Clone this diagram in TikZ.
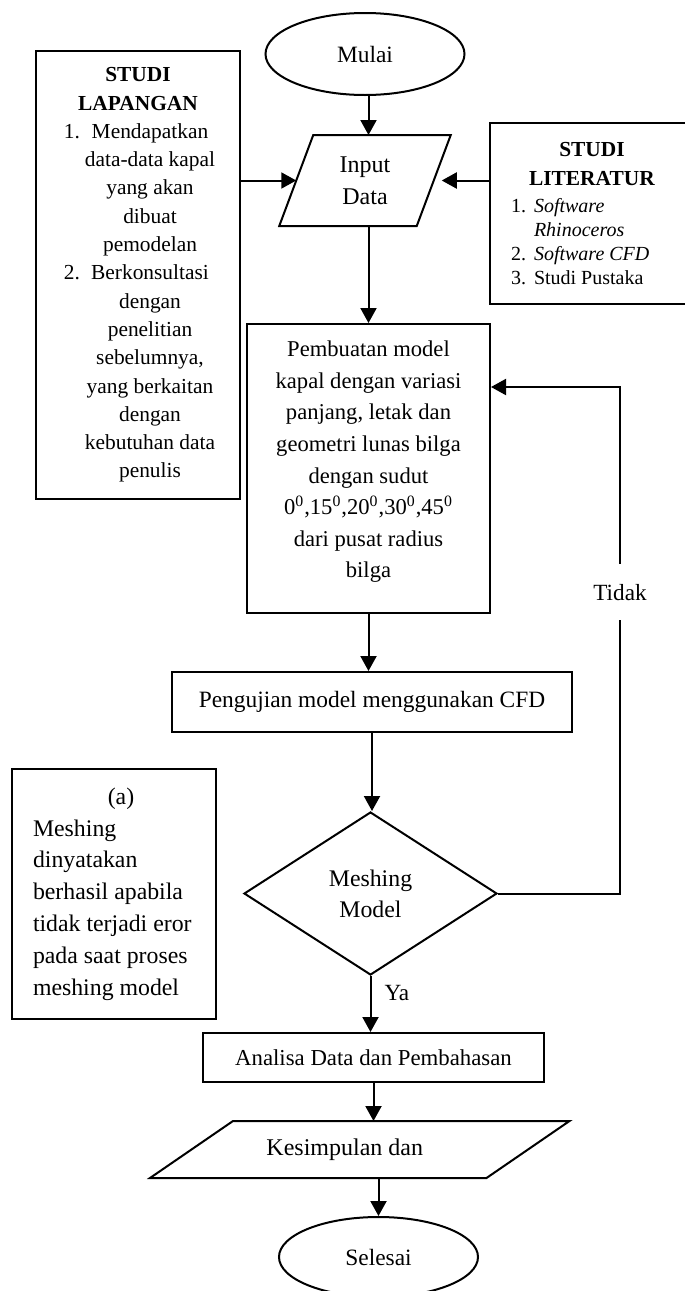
\documentclass[tikz,border=0pt]{standalone}
\usepackage{fontspec}
\setmainfont{Liberation Serif}
\usetikzlibrary{shapes.geometric,arrows.meta}

\tikzset{every picture/.style={line width=1pt}}
\tikzset{kotak/.style={draw, rectangle, inner sep=0pt, align=center, font=\fontsize{11.7}{15.8}\selectfont}}
\tikzset{lonjong/.style={draw, ellipse, inner sep=0pt, font=\fontsize{11.7}{14}\selectfont}}
\tikzset{jajar/.style={rectangle, inner sep=0pt, outer sep=0pt, align=center, font=\fontsize{12}{16}\selectfont}}
\tikzset{panah/.style={-{Triangle[length=7.5pt,width=8pt]}}}
\newcommand{\lapbaris}[2]{\makebox[12pt][r]{#1}\makebox[70pt]{#2}}
\newcommand{\litbaris}[2]{\makebox[81pt][l]{\makebox[11.5pt][l]{#1}#2}}
\newcommand{\catbaris}[1]{\makebox[81pt][l]{#1}}
\newcommand{\sisimiring}[2]{\draw ([xshift=#2]#1.north west) -- ([xshift=#2]#1.north east)
    -- ([xshift=-#2]#1.south east) -- ([xshift=-#2]#1.south west) -- cycle;}

\begin{document}
\begin{tikzpicture}[x=0.5pt,y=-0.5pt]
    \useasboundingbox (0,0) rectangle (685,1291);
    \node[lonjong, minimum width=99.5pt, minimum height=41pt] (mulai) at (365,54) {Mulai};
    \node[jajar, minimum width=68.75pt, minimum height=45.5pt] (input) at (365,180.5) {Input\\Data};
    \sisimiring{input}{8.5pt}
    \node[kotak, minimum width=102pt, minimum height=224pt, font=\fontsize{10.7}{14.15}\selectfont] (lapangan) at (138,275)
        {\textbf{STUDI}\\ \textbf{LAPANGAN}\\
        \lapbaris{1.}{Mendapatkan}\\ \lapbaris{}{data-data kapal}\\ \lapbaris{}{yang akan}\\
        \lapbaris{}{dibuat}\\ \lapbaris{}{pemodelan}\\
        \lapbaris{2.}{Berkonsultasi}\\ \lapbaris{}{dengan}\\ \lapbaris{}{penelitian}\\
        \lapbaris{}{sebelumnya,}\\ \lapbaris{}{yang berkaitan}\\ \lapbaris{}{dengan}\\
        \lapbaris{}{kebutuhan data}\\ \lapbaris{}{penulis}};
    \node[kotak, minimum width=102pt, minimum height=90.5pt, font=\fontsize{10}{12}\selectfont] (literatur) at (592,213.5)
        {{\fontsize{10.7}{12}\selectfont\textbf{STUDI}}\\[2.5pt]
        {\fontsize{10.7}{12}\selectfont\textbf{LITERATUR}}\\[1.5pt]
        \litbaris{1.}{\textit{Software}}\\ \litbaris{}{\textit{Rhinoceros}}\\
        \litbaris{2.}{\textit{Software CFD}}\\ \litbaris{3.}{Studi Pustaka}};
    \node[kotak, minimum width=121.5pt, minimum height=144.5pt, font=\fontsize{11.3}{15.8}\selectfont] (model) at (368.5,468.5)
        {Pembuatan model\\ kapal dengan variasi\\ panjang, letak dan\\ geometri lunas bilga\\ dengan sudut\\
        0\textsuperscript{0},15\textsuperscript{0},20\textsuperscript{0},30\textsuperscript{0},45\textsuperscript{0}\\
        dari pusat radius\\ bilga\rule[-9pt]{0pt}{9pt}};
    \node[kotak, minimum width=200pt, minimum height=30pt] (uji) at (372,702) {Pengujian model menggunakan CFD};
    \node[draw, diamond, inner sep=0pt, align=center, minimum width=126.5pt, minimum height=81.5pt,
        font=\fontsize{11.9}{15.5}\selectfont] (mesh) at (370.5,893.5) {Meshing\\Model};
    \node[kotak, minimum width=102pt, minimum height=125pt, font=\fontsize{11.9}{15.9}\selectfont] (catatan) at (114,894)
        {\makebox[81pt]{\hspace{7pt}(a)}\\ \catbaris{Meshing}\\ \catbaris{dinyatakan}\\ \catbaris{berhasil apabila}\\
        \catbaris{tidak terjadi eror}\\ \catbaris{pada saat proses}\\ \catbaris{meshing model}};
    \node[kotak, minimum width=170.5pt, minimum height=24.5pt, font=\fontsize{11.4}{14}\selectfont] (analisa) at (373.5,1057.5)
        {Analisa Data dan Pembahasan};
    \node[jajar, minimum width=168.25pt, minimum height=28.5pt] (simpul) at (359.75,1149.5) {Kesimpulan dan\hspace{15pt}};
    \sisimiring{simpul}{20.75pt}
    \node[lonjong, minimum width=99.5pt, minimum height=40pt] (selesai) at (378.5,1257) {Selesai};
    \coordinate (balik) at (620,387);

    \draw[panah] (mulai.south -| model.north) -- (input.north -| model.north);
    \draw[panah] (lapangan.east |- input.west) -- (input.west);
    \draw[panah, shorten >=4pt] (literatur.west |- input.east) -- (input.east);
    \draw[panah] (input.south -| model.north) -- (model.north);
    \draw[panah] (model.south) -- (model.south |- uji.north);
    \draw[panah] (uji.south) -- (uji.south |- mesh.north);
    \draw[panah] (mesh.south) -- (mesh.south |- analisa.north)
        node[pos=0.3, anchor=west, inner sep=0pt, xshift=6.5pt, font=\fontsize{11.6}{14}\selectfont] (ya) {Ya};
    \draw[panah] (analisa.south) -- (analisa.south |- simpul.north);
    \draw[panah] (simpul.south -| selesai.north) -- (selesai.north);
    \draw[panah] (mesh.east) -| (balik) -- (balik -| model.east);
    \node[fill=white, inner xsep=2pt, inner ysep=10pt, text height=8pt, text depth=0pt,
        font=\fontsize{11.6}{14}\selectfont] (tidak) at (620,592) {Tidak};
\end{tikzpicture}
\end{document}
